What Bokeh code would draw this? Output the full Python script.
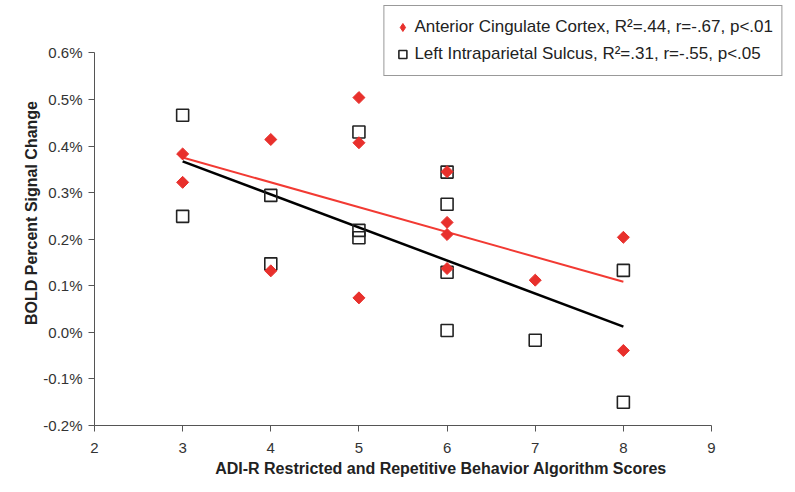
import numpy as np
from bokeh.plotting import figure
from bokeh.models import Range1d, FixedTicker, PrintfTickFormatter, Legend, LegendItem
from bokeh.embed import file_html
from bokeh.resources import INLINE

# Data (BOLD % signal change)
acc_x = [3, 3, 4, 4, 5, 5, 5, 6, 6, 6, 6, 7, 8, 8]
acc_y = [0.383, 0.322, 0.414, 0.132, 0.504, 0.407, 0.074, 0.345, 0.236, 0.210, 0.137, 0.112, 0.204, -0.039]
ips_x = [3, 3, 4, 4, 5, 5, 5, 6, 6, 6, 6, 7, 8, 8]
ips_y = [0.466, 0.249, 0.294, 0.147, 0.430, 0.219, 0.203, 0.344, 0.275, 0.129, 0.004, -0.017, 0.133, -0.150]
acc_label = "Anterior Cingulate Cortex, R\u00b2=.44, r=-.67, p<.01"
ips_label = "Left Intraparietal Sulcus, R\u00b2=.31, r=-.55, p<.05"
x_ticks = [2, 3, 4, 5, 6, 7, 8, 9]
y_ticks = [-0.2, -0.1, 0.0, 0.1, 0.2, 0.3, 0.4, 0.5, 0.6]

RED = "#e8302c"
FONT = "Liberation Sans"

p = figure(width=787, height=484, output_backend="svg", toolbar_location=None,
           x_range=Range1d(2, 9.862), y_range=Range1d(-0.2, 0.7124),
           min_border_left=94, min_border_right=0, min_border_top=0, min_border_bottom=59)
p.outline_line_color = None
p.grid.visible = False
p.background_fill_color = "white"

# Regression lines
def fit_line(xs, ys):
    k, b = np.polyfit(xs, ys, 1)
    lx = np.array([min(xs), max(xs)], dtype=float)
    return lx, k * lx + b

lx, ly = fit_line(acc_x, acc_y)
p.line(lx, ly, line_color="#f23a33", line_width=2)
lx2, ly2 = fit_line(ips_x, ips_y)
p.line(lx2, ly2, line_color="black", line_width=2.5)

r_ips = p.scatter(ips_x, ips_y, marker="square", size=12, fill_color=None,
                  line_color="#222222", line_width=1.6)
r_acc = p.scatter(acc_x, acc_y, marker="square", angle=np.pi / 4, size=8.5,
                  fill_color=RED, line_color=RED, line_width=1)
# legend-only glyph (legend ignores marker angle); its single point is NaN so nothing is plotted
r_acc_leg = p.scatter(x=[float("nan")], y=[float("nan")], marker="diamond", size=10,
                      fill_color=RED, line_color=RED, line_width=1)

for ax in (p.xaxis, p.yaxis):
    ax.axis_line_color = "#555555"
    ax.major_tick_line_color = "#555555"
    ax.major_tick_in = 0
    ax.major_tick_out = 6
    ax.minor_tick_line_color = None
    ax.major_label_text_font = FONT
    ax.major_label_text_font_size = "15px"
    ax.major_label_text_color = "#333333"
    ax.axis_label_text_font = FONT
    ax.axis_label_text_font_size = "16px"
    ax.axis_label_text_font_style = "bold"
    ax.axis_label_text_color = "#222222"

p.xaxis.bounds = (2, 9)
p.yaxis.bounds = (-0.2, 0.6)
p.xaxis.ticker = FixedTicker(ticks=x_ticks)
p.yaxis.ticker = FixedTicker(ticks=y_ticks)
p.yaxis.formatter = PrintfTickFormatter(format="%.1f%%")
p.xaxis.axis_label = "ADI-R Restricted and Repetitive Behavior Algorithm Scores"
p.yaxis.axis_label = "BOLD Percent Signal Change"
p.xaxis.major_label_standoff = 11
p.yaxis.major_label_standoff = 6
p.xaxis.axis_label_standoff = 4
p.yaxis.axis_label_standoff = 0

legend = Legend(items=[LegendItem(label=acc_label, renderers=[r_acc_leg]),
                       LegendItem(label=ips_label, renderers=[r_ips])],
                location="top_right", margin=5, padding=8, spacing=1,
                glyph_width=20, glyph_height=26, label_height=26, label_standoff=2,
                label_text_font=FONT, label_text_font_size="17px",
                label_text_color="#222222",
                border_line_color="#333333", border_line_width=1,
                background_fill_color="white", background_fill_alpha=1)
p.add_layout(legend)

open("out.html", "w").write(file_html(p, INLINE))
